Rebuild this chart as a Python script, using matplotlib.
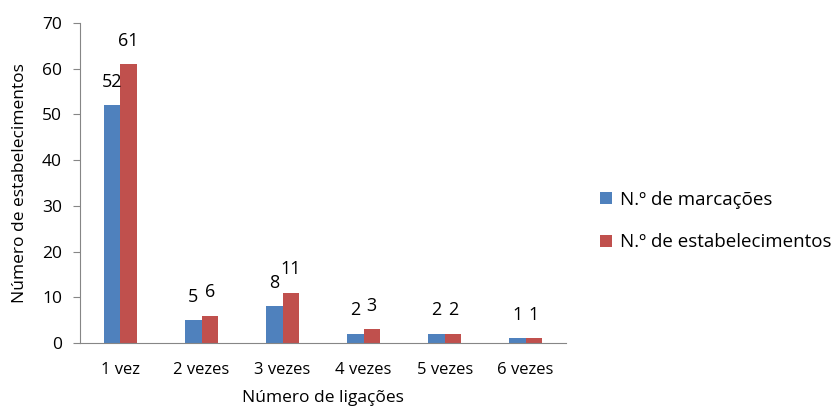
import numpy as np
import matplotlib.pyplot as plt

plt.rcParams['font.family'] = ['Open Sans', 'DejaVu Sans']

categories = ["1 vez", "2 vezes", "3 vezes", "4 vezes", "5 vezes", "6 vezes"]
marcacoes = [52, 5, 8, 2, 2, 1]
estabelecimentos = [61, 6, 11, 3, 2, 1]
series_names = ["N.º de marcações", "N.º de estabelecimentos"]
colors = ["#4F81BD", "#C0504D"]

fig = plt.figure(figsize=(8.34, 4.12), dpi=100)
ax = fig.add_axes([0.0959, 0.1675, 0.583, 0.7765])

x = np.arange(len(categories))
w = 0.2
for k, vals in enumerate([marcacoes, estabelecimentos]):
    ax.bar(x + (k - 0.5) * w, vals, w, color=colors[k], label=series_names[k])
    for xi, v in zip(x + (k - 0.5) * w, vals):
        ax.annotate(str(v), (xi, v), xytext=(0, 17), textcoords="offset points",
                    ha="center", va="center", fontsize=13)

ax.set_xlim(-0.5, len(categories) - 0.5)
ax.set_ylim(0, 70)
ax.set_yticks(range(0, 71, 10))
ax.set_xticks(x)
ax.set_xticklabels(categories)

for s in ["top", "right"]:
    ax.spines[s].set_visible(False)
for s in ["left", "bottom"]:
    ax.spines[s].set_color("#868686")
ax.tick_params(axis="y", colors="#868686", labelcolor="black", length=5, labelsize=12.5, pad=8)
ax.tick_params(axis="x", length=0, labelsize=12, pad=14)

ax.set_xlabel("Número de ligações", fontsize=12.5, labelpad=8)
ax.set_ylabel("Número de estabelecimentos", fontsize=12.5, labelpad=10)

ax.legend(loc="center left", bbox_to_anchor=(0.72, 0.463), bbox_transform=fig.transFigure,
          frameon=False, fontsize=13.5, borderaxespad=0, borderpad=0,
          handlelength=0.6, handleheight=0.6, handletextpad=0.45, labelspacing=1.3)

fig.savefig("out.png", dpi=100)
